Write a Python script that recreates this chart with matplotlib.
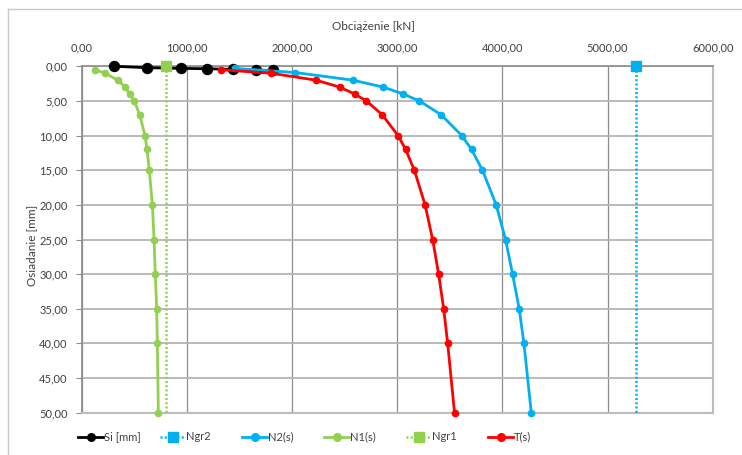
import matplotlib
matplotlib.use("Agg")
import matplotlib.pyplot as plt
from matplotlib.lines import Line2D
from matplotlib.ticker import FuncFormatter, MultipleLocator

# Load–settlement data (load in kN, settlement in mm)
si_load = [310, 624, 941, 1189, 1441, 1657, 1816]
si_settle = [0.0, 0.2, 0.3, 0.35, 0.45, 0.55, 0.6]

n2_load = [1460, 2031, 2578, 2866, 3058, 3211, 3418, 3614, 3707, 3811, 3941,
           4030, 4097, 4160, 4205, 4275]
n2_settle = [0.3, 0.9, 2, 3, 4, 5, 7, 10, 12, 15, 20, 25, 30, 35, 40, 50]

n1_load = [127, 222, 343, 412, 456, 500, 551, 602, 621, 643, 672, 688, 700,
           713, 719, 729]
n1_settle = [0.5, 1, 2, 3, 4, 5, 7, 10, 12, 15, 20, 25, 30, 35, 40, 50]

t_load = [1324, 1800, 2228, 2453, 2595, 2707, 2858, 3008, 3080, 3163, 3265,
          3337, 3394, 3442, 3480, 3545]
t_settle = [0.5, 1, 2, 3, 4, 5, 7, 10, 12, 15, 20, 25, 30, 35, 40, 50]

ngr1_load = [800, 800]
ngr2_load = [5270, 5270]
ngr_settle = [0, 50]

labels = ["Si [mm]", "Ngr2", "N2(s)", "N1(s)", "Ngr1", "T(s)"]

BLACK = "#000000"
BLUE = "#00B0F0"
GREEN = "#92D050"
RED = "#FF0000"
TXT = "#404040"
FONT = "Lato"

W, H = 742, 455
fig = plt.figure(figsize=(W / 100, H / 100), dpi=100)
fig.patch.set_facecolor("white")

# outer chart frame
fig.add_artist(Line2D([8 / W, 8 / W], [1 - 9 / H, 0], color="#c8c8c8", lw=1,
                      transform=fig.transFigure))
fig.add_artist(Line2D([8 / W, 1], [1 - 9 / H, 1 - 9 / H], color="#c8c8c8", lw=1,
                      transform=fig.transFigure))

left, right, top, bottom = 81.7, 712.7, 66.3, 412.7
ax = fig.add_axes([left / W, 1 - bottom / H, (right - left) / W, (bottom - top) / H])
ax.set_xlim(0, 6000)
ax.set_ylim(50, 0)

ax.xaxis.set_major_locator(MultipleLocator(1000))
ax.yaxis.set_major_locator(MultipleLocator(5))
fmt = FuncFormatter(lambda v, p: f"{v:.2f}".replace(".", ","))
ax.xaxis.set_major_formatter(fmt)
ax.yaxis.set_major_formatter(fmt)
ax.xaxis.tick_top()
ax.tick_params(axis="x", length=0, pad=9, labelsize=8, labelcolor=TXT)
ax.tick_params(axis="y", length=4, width=0.8, color="#8c8c8c", direction="out",
               pad=6, labelsize=8, labelcolor=TXT)
for lab in ax.get_xticklabels() + ax.get_yticklabels():
    lab.set_fontfamily(FONT)

ax.grid(axis="x", color="#8c8c8c", lw=0.9)
ax.grid(axis="y", color="#b4b4b4", lw=1.3)
ax.set_axisbelow(True)
for side in ["left", "top"]:
    ax.spines[side].set_color("#8c8c8c")
    ax.spines[side].set_linewidth(1.2)
for side in ["right", "bottom"]:
    ax.spines[side].set_color("#bcbcbc")
    ax.spines[side].set_linewidth(1.5)

dot = (0, (0.8, 0.9))
styles = [
    dict(x=si_load, y=si_settle, color=BLACK, ls="-", lw=2.0, marker="o", ms=7.2, mev=None),
    dict(x=ngr2_load, y=ngr_settle, color=BLUE, ls=dot, lw=1.8, marker="s", ms=6.5, mev=[0]),
    dict(x=n2_load, y=n2_settle, color=BLUE, ls="-", lw=2.0, marker="o", ms=4.5, mev=None),
    dict(x=n1_load, y=n1_settle, color=GREEN, ls="-", lw=2.0, marker="o", ms=4.5, mev=None),
    dict(x=ngr1_load, y=ngr_settle, color=GREEN, ls=dot, lw=1.8, marker="s", ms=6.5, mev=[0]),
    dict(x=t_load, y=t_settle, color=RED, ls="-", lw=2.0, marker="o", ms=4.5, mev=None),
]
for i, s in enumerate(styles):
    ax.plot(s["x"], s["y"], color=s["color"], ls=s["ls"], lw=s["lw"],
            marker=s["marker"], ms=s["ms"], markevery=s["mev"], clip_on=False,
            zorder=3 + i)

fig.text(373 / W, 1 - 26.5 / H, "Obciążenie [kN]", ha="center", va="center",
         fontsize=8.5, color=TXT, family=FONT)
fig.text(31.5 / W, 1 - 245 / H, "Osiadanie [mm]", ha="center", va="center",
         rotation=90, fontsize=8.5, color=TXT, family=FONT)

# legend row
ly = 1 - 437 / H
for i, (lab, s) in enumerate(zip(labels, styles)):
    x0 = 78 + 82 * i
    xs = [x0 / W, (x0 + 25) / W]
    fig.add_artist(Line2D(xs, [ly, ly], color=s["color"], ls=s["ls"], lw=s["lw"],
                          transform=fig.transFigure))
    fig.add_artist(Line2D([(x0 + 12.5) / W], [ly], color=s["color"], ls="none",
                          marker=s["marker"],
                          ms=s["ms"] if s["marker"] == "s" else 5.5,
                          transform=fig.transFigure))
    fig.text((x0 + 26) / W, ly, lab, ha="left", va="center", fontsize=8,
             color=TXT, family=FONT)

fig.savefig("out.png", dpi=100)
